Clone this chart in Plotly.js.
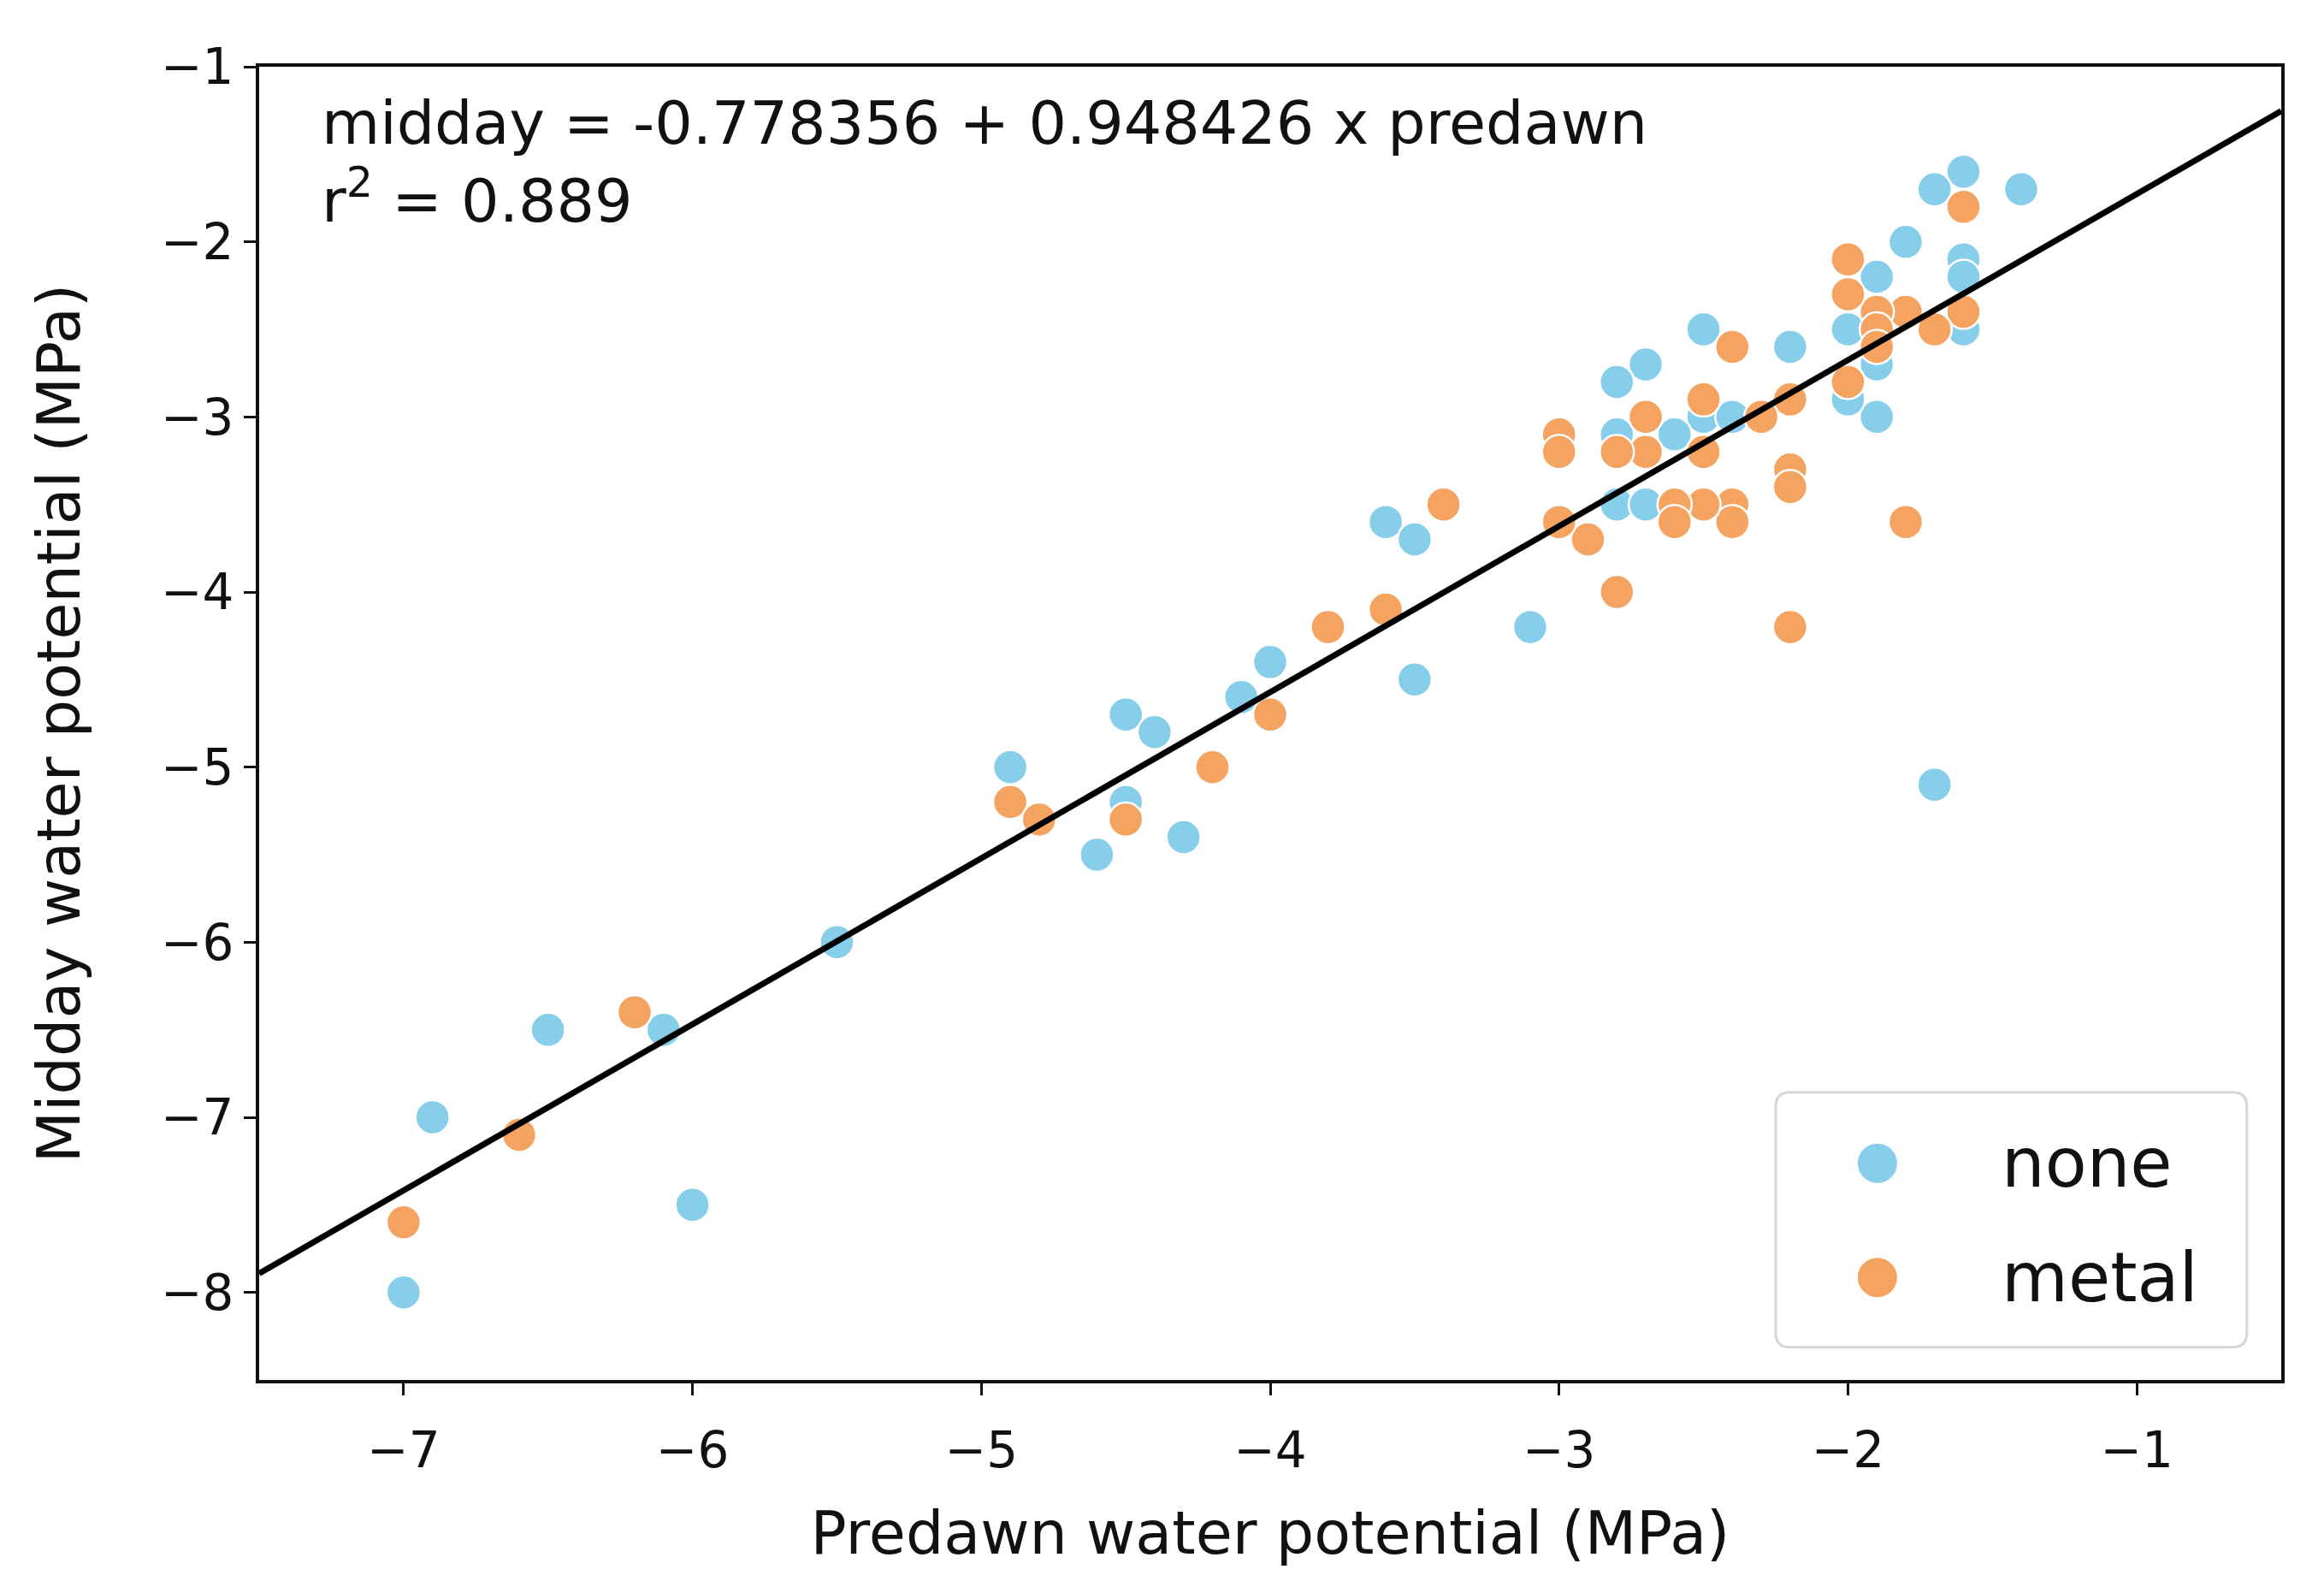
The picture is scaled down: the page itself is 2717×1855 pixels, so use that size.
<!DOCTYPE html>
<html>
<head>
<meta charset="utf-8">
<script src="https://cdn.plot.ly/plotly-3.0.1.min.js"></script>
<style>
  html, body { margin: 0; padding: 0; background: #fff; }
  #chart { width: 2717px; height: 1855px; }
</style>
</head>
<body>
<div id="chart"></div>
<script>
// predawn / midday water potential (MPa)
var none_x = [-1.4, -1.6, -1.7, -1.8, -1.6, -1.6, -1.6, -1.9, -1.9, -1.9, -2.0, -2.0, -2.2, -2.5,
              -2.5, -2.4, -2.6, -2.7, -2.8, -2.8, -2.8, -2.7, -3.6, -3.5, -3.1, -3.5, -4.0, -4.1,
              -4.5, -4.4, -4.9, -4.5, -4.6, -4.3, -5.5, -6.5, -6.1, -6.9, -6.0, -7.0, -1.7];
var none_y = [-1.7, -1.6, -1.7, -2.0, -2.1, -2.2, -2.5, -2.2, -2.7, -3.0, -2.5, -2.9, -2.6, -2.5,
              -3.0, -3.0, -3.1, -2.7, -2.8, -3.1, -3.5, -3.5, -3.6, -3.7, -4.2, -4.5, -4.4, -4.6,
              -4.7, -4.8, -5.0, -5.2, -5.5, -5.4, -6.0, -6.5, -6.5, -7.0, -7.5, -8.0, -5.1];

var metal_x = [-1.6, -1.6, -1.7, -1.8, -1.9, -1.9, -1.9, -2.0, -2.0, -2.0, -2.2, -2.2, -2.2, -2.2,
               -2.3, -2.4, -2.4, -2.4, -2.5, -2.5, -2.5, -2.6, -2.6, -2.7, -2.7, -2.8, -2.8, -1.8,
               -2.9, -3.0, -3.0, -3.0, -3.4, -3.6, -3.8, -4.0, -4.2, -4.9, -4.8, -4.5, -6.2, -6.6, -7.0];
var metal_y = [-1.8, -2.4, -2.5, -2.4, -2.4, -2.5, -2.6, -2.1, -2.3, -2.8, -2.9, -3.3, -3.4, -4.2,
               -3.0, -2.6, -3.5, -3.6, -2.9, -3.2, -3.5, -3.5, -3.6, -3.0, -3.2, -3.2, -4.0, -3.6,
               -3.7, -3.1, -3.2, -3.6, -3.5, -4.1, -4.2, -4.7, -5.0, -5.2, -5.3, -5.3, -6.4, -7.1, -7.6];

// fitted line
var intercept = -0.778356;
var slope = 0.948426;
var r2 = 0.889;
var fit_x = [-7.5, -0.5];

var x_ticks = [-7, -6, -5, -4, -3, -2, -1];
var y_ticks = [-8, -7, -6, -5, -4, -3, -2, -1];

var blue = '#87ceeb';
var orange = '#f4a460';
var font_name = 'DejaVu Sans, sans-serif';

function minus(v){
    return String(v).replace('-', '\u2212');
}

function on_start(){
    var chart = document.getElementById('chart');

    var fit_y = fit_x.map(function(v){ return intercept + slope * v; });

    var data = [
        {
            x: none_x, y: none_y, name: 'none',
            type: 'scatter', mode: 'markers',
            marker: {color: blue, size: 40, line: {color: '#fff', width: 2.5}},
            showlegend: false
        },
        {
            x: metal_x, y: metal_y, name: 'metal',
            type: 'scatter', mode: 'markers',
            marker: {color: orange, size: 40, line: {color: '#fff', width: 2.5}},
            showlegend: false
        },
        {
            x: fit_x, y: fit_y, type: 'scatter', mode: 'lines',
            line: {color: '#000', width: 7},
            showlegend: false, hoverinfo: 'skip'
        }
    ];

    var axis_common = {
        showgrid: false, zeroline: false,
        showline: true, mirror: true, linecolor: '#111', linewidth: 4,
        ticks: 'outside', ticklen: 14, tickwidth: 3, tickcolor: '#111',
        tickfont: {family: font_name, size: 58, color: '#111'}
    };

    // hand-made legend (box, dots, labels)
    var lx0 = 0.750, lx1 = 0.983, ly0 = 0.025, ly1 = 0.219;
    var rx = 0.007, ry = 0.011;
    var box_path = 'M ' + (lx0 + rx) + ' ' + ly1 +
        ' L ' + (lx1 - rx) + ' ' + ly1 + ' Q ' + lx1 + ' ' + ly1 + ' ' + lx1 + ' ' + (ly1 - ry) +
        ' L ' + lx1 + ' ' + (ly0 + ry) + ' Q ' + lx1 + ' ' + ly0 + ' ' + (lx1 - rx) + ' ' + ly0 +
        ' L ' + (lx0 + rx) + ' ' + ly0 + ' Q ' + lx0 + ' ' + ly0 + ' ' + lx0 + ' ' + (ly0 + ry) +
        ' L ' + lx0 + ' ' + (ly1 - ry) + ' Q ' + lx0 + ' ' + ly1 + ' ' + (lx0 + rx) + ' ' + ly1 + ' Z';

    var legend_items = [{label: 'none', color: blue, y: 0.165}, {label: 'metal', color: orange, y: 0.078}];

    var shapes = [{
        type: 'path', xref: 'paper', yref: 'paper', path: box_path,
        fillcolor: 'rgba(255,255,255,0.8)', line: {color: '#d6d6d6', width: 3}
    }];
    var annotations = [{
        xref: 'paper', yref: 'paper', x: 0.030, y: 0.985,
        xanchor: 'left', yanchor: 'top', align: 'left', showarrow: false,
        text: 'midday = ' + intercept + ' + ' + slope + ' x predawn<br>r<sup>2</sup> = ' + r2,
        font: {family: font_name, size: 70, color: '#111'}
    }];

    legend_items.forEach(function(it){
        shapes.push({
            type: 'circle', xref: 'paper', yref: 'paper',
            xsizemode: 'pixel', ysizemode: 'pixel',
            xanchor: 0.8003, yanchor: it.y,
            x0: -24, x1: 24, y0: -24, y1: 24,
            fillcolor: it.color, line: {color: '#fff', width: 2}
        });
        annotations.push({
            xref: 'paper', yref: 'paper', x: 0.861, y: it.y,
            xanchor: 'left', yanchor: 'middle', showarrow: false,
            text: it.label, font: {family: font_name, size: 80, color: '#111'}
        });
    });

    var layout = {
        width: 2717, height: 1855,
        margin: {l: 303, r: 50, t: 78, b: 242},
        paper_bgcolor: '#fff', plot_bgcolor: '#fff',
        font: {family: font_name},
        showlegend: false,
        xaxis: Object.assign({}, axis_common, {
            range: [-7.5, -0.5],
            tickvals: x_ticks, ticktext: x_ticks.map(minus),
            ticklabelstandoff: 14,
            title: {text: 'Predawn water potential (MPa)', standoff: 40,
                    font: {family: font_name, size: 70, color: '#111'}}
        }),
        yaxis: Object.assign({}, axis_common, {
            range: [-8.5, -1],
            tickvals: y_ticks, ticktext: y_ticks.map(minus),
            title: {text: 'Midday water potential (MPa)', standoff: 72,
                    font: {family: font_name, size: 70, color: '#111'}}
        }),
        shapes: shapes,
        annotations: annotations
    };

    Plotly.newPlot(chart, data, layout, {staticPlot: true});
}

on_start();
</script>
</body>
</html>
